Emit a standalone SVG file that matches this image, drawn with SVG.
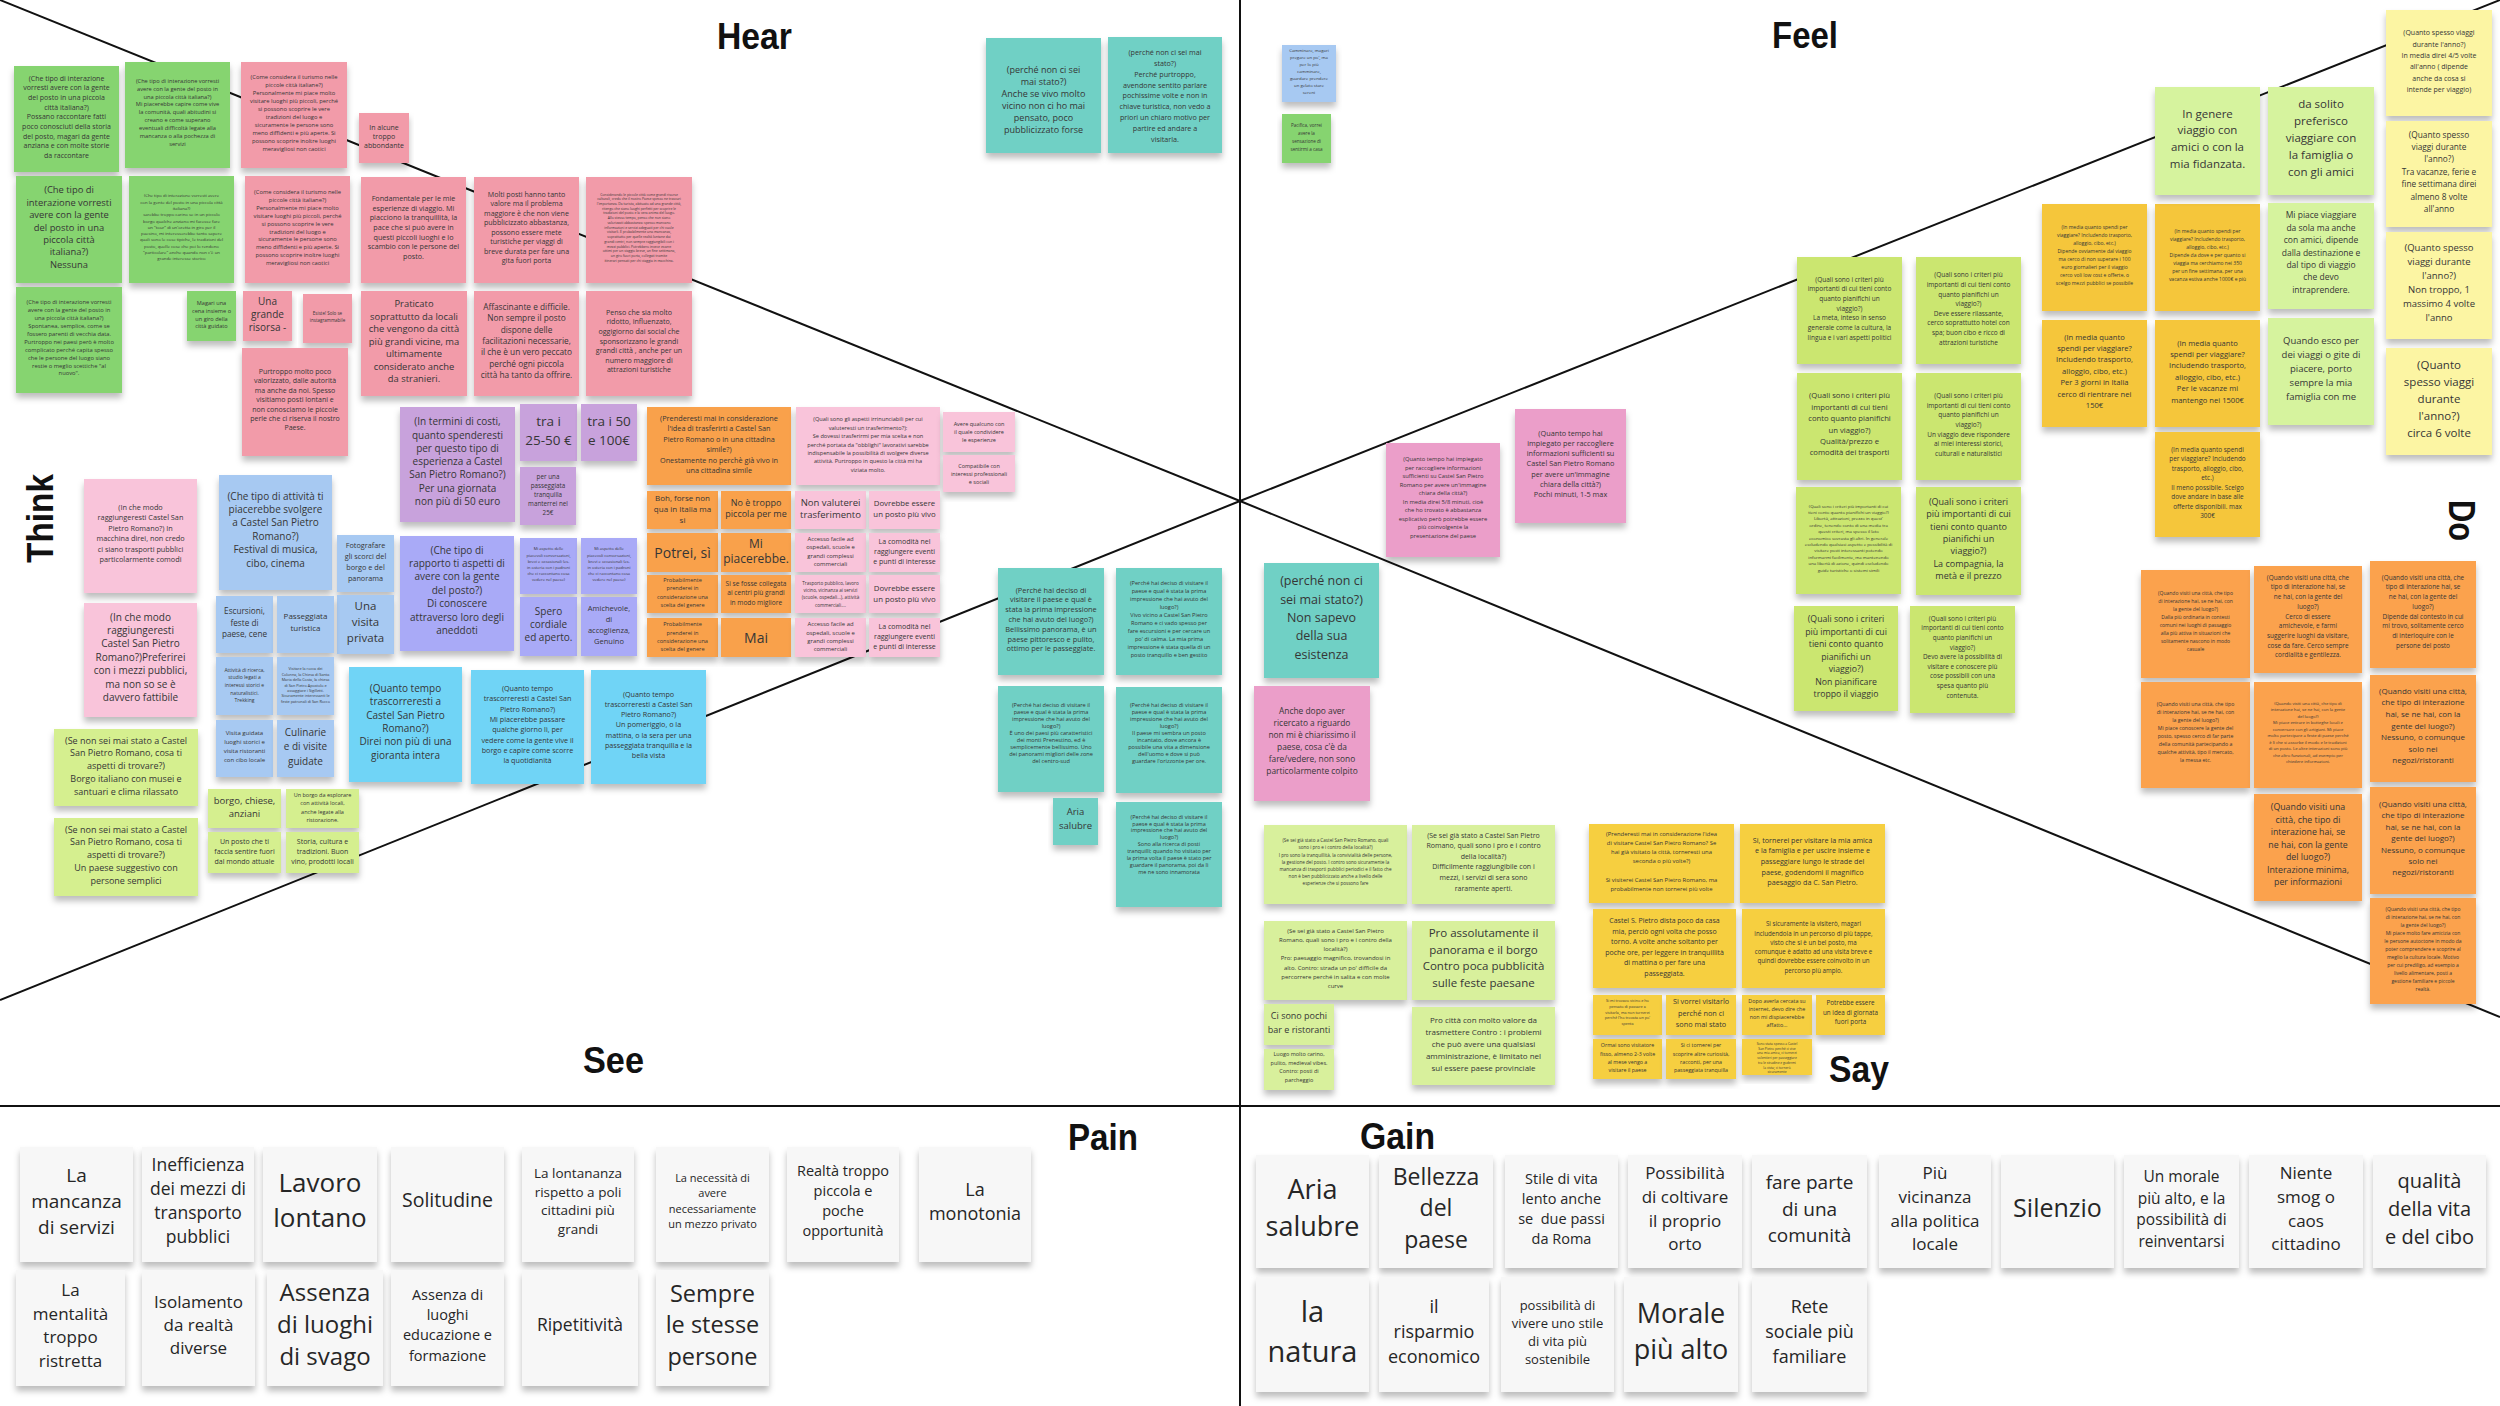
<svg xmlns="http://www.w3.org/2000/svg" width="2500" height="1406" viewBox="0 0 2500 1406">
<defs>
<filter id="sh" x="-10%" y="-10%" width="120%" height="135%"><feDropShadow dx="0" dy="5" stdDeviation="3" flood-color="#000" flood-opacity="0.26"/></filter>
</defs>
<style>
.n{filter:url(#sh)}
text{font-family:"Open Sans","DejaVu Sans",sans-serif;fill:#363636;text-anchor:middle}
.ttl{font-family:"Liberation Sans",Arial,sans-serif;font-weight:700;fill:#111;text-anchor:start;font-size:37px}
.ln{stroke:#111;stroke-width:2;fill:none}
.gr{fill:#86d46f}.pk{fill:#f29ba9}.pu{fill:#c8a2dc}.pw{fill:#a9aaf7}.lb{fill:#a7c9f2}.cy{fill:#6fd4f6}
.lp{fill:#f9c4da}.lm{fill:#d5ef8f}.or{fill:#f9a14b}.te{fill:#70d0c5}.mg{fill:#eb9ec9}.lf{fill:#cbe66f}
.lf2{fill:#d6f39e}.go{fill:#f5c63a}.py{fill:#fcf5a3}.do{fill:#fba24e}.sy{fill:#f6cf3f}.sl{fill:#d8f09c}
.wh{fill:#f7f7f7}.wt{fill:#262626}
</style>
<rect width="2500" height="1406" fill="#fff"/>
<g id="connectors">
<line class="ln" x1="0" y1="0" x2="1240" y2="501"/>
<line class="ln" x1="1240" y1="501" x2="2500" y2="0"/>
<line class="ln" x1="1240" y1="501" x2="0" y2="1000"/>
<line class="ln" x1="1240" y1="501" x2="2500" y2="1017"/>
<line class="ln" x1="1240" y1="0" x2="1240" y2="1406"/>
<line class="ln" x1="0" y1="1106" x2="2500" y2="1106"/>
</g>
<g id="labels">
<text class="ttl" x="717" y="49" textLength="75" lengthAdjust="spacingAndGlyphs">Hear</text>
<text class="ttl" x="1772" y="48" textLength="66" lengthAdjust="spacingAndGlyphs">Feel</text>
<text class="ttl" x="583" y="1073" textLength="61" lengthAdjust="spacingAndGlyphs">See</text>
<text class="ttl" x="1829" y="1082" textLength="60" lengthAdjust="spacingAndGlyphs">Say</text>
<text class="ttl" x="1068" y="1150" textLength="70" lengthAdjust="spacingAndGlyphs">Pain</text>
<text class="ttl" x="1360" y="1149" textLength="75" lengthAdjust="spacingAndGlyphs">Gain</text>
<text class="ttl" transform="translate(53,563) rotate(-90)" x="0" y="0" textLength="89" lengthAdjust="spacingAndGlyphs">Think</text>
<text class="ttl" transform="translate(2449,500) rotate(90)" x="0" y="0" textLength="41" lengthAdjust="spacingAndGlyphs">Do</text>
</g>

<g id="hear">
<g id="hear-1"><rect class="n gr" x="14" y="66" width="105" height="106"/><text font-size="7"><tspan x="66.5" y="80.5">(Che tipo di interazione</tspan><tspan x="66.5" dy="9.7">vorresti avere con la gente</tspan><tspan x="66.5" dy="9.7">del posto in una piccola</tspan><tspan x="66.5" dy="9.7">città italiana?)</tspan><tspan x="66.5" dy="9.7">Possano raccontare fatti</tspan><tspan x="66.5" dy="9.7">poco conosciuti della storia</tspan><tspan x="66.5" dy="9.7">del posto, magari da gente</tspan><tspan x="66.5" dy="9.7">anziana e con molte storie</tspan><tspan x="66.5" dy="9.7">da raccontare</tspan></text></g>
<g id="hear-2"><rect class="n gr" x="125" y="62" width="105" height="106"/><text font-size="5.7"><tspan x="177.5" y="82.7">(Che tipo di interazione vorresti</tspan><tspan x="177.5" dy="7.9">avere con la gente del posto in</tspan><tspan x="177.5" dy="7.9">una piccola città italiana?)</tspan><tspan x="177.5" dy="7.9">Mi piacerebbe capire come vive</tspan><tspan x="177.5" dy="7.9">la comunità, quali abitudini si</tspan><tspan x="177.5" dy="7.9">creano e come superano</tspan><tspan x="177.5" dy="7.9">eventuali difficoltà legate alla</tspan><tspan x="177.5" dy="7.9">mancanza o alla pochezza di</tspan><tspan x="177.5" dy="7.9">servizi</tspan></text></g>
<g id="hear-3"><rect class="n pk" x="241" y="62" width="106" height="106"/><text font-size="5.8"><tspan x="294" y="79.4">(Come considera il turismo nelle</tspan><tspan x="294" dy="7.9">piccole città italiane?)</tspan><tspan x="294" dy="7.9">Personalmente mi piace molto</tspan><tspan x="294" dy="7.9">visitare luoghi più piccoli, perché</tspan><tspan x="294" dy="7.9">si possono scoprire le vere</tspan><tspan x="294" dy="7.9">tradizioni del luogo e</tspan><tspan x="294" dy="7.9">sicuramente le persone sono</tspan><tspan x="294" dy="7.9">meno diffidenti e più aperte. Si</tspan><tspan x="294" dy="7.9">possono scoprire inoltre luoghi</tspan><tspan x="294" dy="7.9">meravigliosi non caotici</tspan></text></g>
<g id="hear-4"><rect class="n pk" x="359" y="113" width="50" height="50"/><text font-size="7"><tspan x="384" y="129.5">In alcune</tspan><tspan x="384" dy="9.3">troppo</tspan><tspan x="384" dy="9.3">abbondante</tspan></text></g>
<g id="hear-5"><rect class="n gr" x="16" y="176" width="106" height="107"/><text font-size="9.4"><tspan x="69" y="193.3">(Che tipo di</tspan><tspan x="69" dy="12.4">interazione vorresti</tspan><tspan x="69" dy="12.4">avere con la gente</tspan><tspan x="69" dy="12.4">del posto in una</tspan><tspan x="69" dy="12.4">piccola città</tspan><tspan x="69" dy="12.4">italiana?)</tspan><tspan x="69" dy="12.4">Nessuna</tspan></text></g>
<g id="hear-6"><rect class="n gr" x="129" y="176" width="105" height="107"/><text font-size="4.3"><tspan x="181.5" y="197.3">(Che tipo di interazione vorresti avere</tspan><tspan x="181.5" dy="6.3">con la gente del posto in una piccola città</tspan><tspan x="181.5" dy="6.3">italiana?)</tspan><tspan x="181.5" dy="6.3">sarebbe troppo carino se in un piccolo</tspan><tspan x="181.5" dy="6.3">borgo qualche anziano mi facesse fare</tspan><tspan x="181.5" dy="6.3">un "tour" di un'oretta in giro per il</tspan><tspan x="181.5" dy="6.3">paesino, mi interesserebbe tanto sapere</tspan><tspan x="181.5" dy="6.3">quali sono le cose tipiche, le tradizioni del</tspan><tspan x="181.5" dy="6.3">posto, quelle cose che poi lo rendono</tspan><tspan x="181.5" dy="6.3">"particolare" anche quando non c'è un</tspan><tspan x="181.5" dy="6.3">grande interesse storico</tspan></text></g>
<g id="hear-7"><rect class="n pk" x="245" y="176" width="105" height="107"/><text font-size="5.8"><tspan x="297.5" y="193.7">(Come considera il turismo nelle</tspan><tspan x="297.5" dy="7.96">piccole città italiane?)</tspan><tspan x="297.5" dy="7.96">Personalmente mi piace molto</tspan><tspan x="297.5" dy="7.96">visitare luoghi più piccoli, perché</tspan><tspan x="297.5" dy="7.96">si possono scoprire le vere</tspan><tspan x="297.5" dy="7.96">tradizioni del luogo e</tspan><tspan x="297.5" dy="7.96">sicuramente le persone sono</tspan><tspan x="297.5" dy="7.96">meno diffidenti e più aperte. Si</tspan><tspan x="297.5" dy="7.96">possono scoprire inoltre luoghi</tspan><tspan x="297.5" dy="7.96">meravigliosi non caotici</tspan></text></g>
<g id="hear-8"><rect class="n pk" x="361" y="177" width="105" height="106"/><text font-size="7.2"><tspan x="413.5" y="200.8">Fondamentale per le mie</tspan><tspan x="413.5" dy="9.7">esperienze di viaggio. Mi</tspan><tspan x="413.5" dy="9.7">piacciono la tranquillità, la</tspan><tspan x="413.5" dy="9.7">pace che si può avere in</tspan><tspan x="413.5" dy="9.7">questi piccoli luoghi e lo</tspan><tspan x="413.5" dy="9.7">scambio con le persone del</tspan><tspan x="413.5" dy="9.7">posto.</tspan></text></g>
<g id="hear-9"><rect class="n pk" x="474" y="177" width="105" height="106"/><text font-size="7.1"><tspan x="526.5" y="196.5">Molti posti hanno tanto</tspan><tspan x="526.5" dy="9.5">valore ma il problema</tspan><tspan x="526.5" dy="9.5">maggiore è che non viene</tspan><tspan x="526.5" dy="9.5">pubblicizzato abbastanza,</tspan><tspan x="526.5" dy="9.5">possono essere mete</tspan><tspan x="526.5" dy="9.5">turistiche per viaggi di</tspan><tspan x="526.5" dy="9.5">breve durata per fare una</tspan><tspan x="526.5" dy="9.5">gita fuori porta</tspan></text></g>
<g id="hear-10"><rect class="n pk" x="586" y="177" width="106" height="106"/><text font-size="3.4"><tspan x="639" y="195.5">Considerando le piccole città come grandi risorse</tspan><tspan x="639" dy="4.74">culturali, credo che il nostro Paese spesso ne trascuri</tspan><tspan x="639" dy="4.74">l'importanza. Da turista, abituato ad una grande città,</tspan><tspan x="639" dy="4.74">ritengo che siano luoghi perfetti per scoprire le</tspan><tspan x="639" dy="4.74">tradizioni del posto e la vera anima del luogo.</tspan><tspan x="639" dy="4.74">Allo stesso tempo, penso che non siano</tspan><tspan x="639" dy="4.74">valorizzati abbastanza: spesso mancano</tspan><tspan x="639" dy="4.74">informazioni e servizi adeguati per chi vuole</tspan><tspan x="639" dy="4.74">visitarli. È probabilmente una mancanza,</tspan><tspan x="639" dy="4.74">soprattutto per quelle realtà lontane dai</tspan><tspan x="639" dy="4.74">grandi centri, non sempre raggiungibili con i</tspan><tspan x="639" dy="4.74">mezzi pubblici. Potrebbero invece essere</tspan><tspan x="639" dy="4.74">ottimi per un viaggio breve, un fine settimana,</tspan><tspan x="639" dy="4.74">un giro fuori porta, collegati tramite</tspan><tspan x="639" dy="4.74">itinerari pensati per chi viaggia in macchina.</tspan></text></g>
<g id="hear-11"><rect class="n gr" x="16" y="287" width="106" height="106"/><text font-size="5.8"><tspan x="69" y="304.3">(Che tipo di interazione vorresti</tspan><tspan x="69" dy="7.9">avere con la gente del posto in</tspan><tspan x="69" dy="7.9">una piccola città italiana?)</tspan><tspan x="69" dy="7.9">Spontanea, semplice, come se</tspan><tspan x="69" dy="7.9">fossero parenti di vecchia data.</tspan><tspan x="69" dy="7.9">Purtroppo nei paesi però è molto</tspan><tspan x="69" dy="7.9">complicato perché capita spesso</tspan><tspan x="69" dy="7.9">che le persone del luogo siano</tspan><tspan x="69" dy="7.9">restie o meglio scettiche "al</tspan><tspan x="69" dy="7.9">nuovo".</tspan></text></g>
<g id="hear-12"><rect class="n gr" x="187" y="291" width="49" height="50"/><text font-size="5.6"><tspan x="211.5" y="305.3">Magari una</tspan><tspan x="211.5" dy="7.6">cena insieme o</tspan><tspan x="211.5" dy="7.6">un giro della</tspan><tspan x="211.5" dy="7.6">città guidato</tspan></text></g>
<g id="hear-13"><rect class="n pk" x="243" y="291" width="49" height="50"/><text font-size="10"><tspan x="267.5" y="304.5">Una</tspan><tspan x="267.5" dy="13.2">grande</tspan><tspan x="267.5" dy="13.2">risorsa -</tspan></text></g>
<g id="hear-14"><rect class="n pk" x="303" y="294" width="49" height="49"/><text font-size="4.5"><tspan x="327.5" y="315">Esiste! Solo se</tspan><tspan x="327.5" dy="6.7">instagrammabile</tspan></text></g>
<g id="hear-15"><rect class="n pk" x="361" y="291" width="106" height="105"/><text font-size="9.4"><tspan x="414" y="307.3">Praticato</tspan><tspan x="414" dy="12.5">soprattutto da locali</tspan><tspan x="414" dy="12.5">che vengono da città</tspan><tspan x="414" dy="12.5">più grandi vicine, ma</tspan><tspan x="414" dy="12.5">ultimamente</tspan><tspan x="414" dy="12.5">considerato anche</tspan><tspan x="414" dy="12.5">da stranieri.</tspan></text></g>
<g id="hear-16"><rect class="n pk" x="474" y="291" width="105" height="105"/><text font-size="8.3"><tspan x="526.5" y="310">Affascinante e difficile.</tspan><tspan x="526.5" dy="11.3">Non sempre il posto</tspan><tspan x="526.5" dy="11.3">dispone delle</tspan><tspan x="526.5" dy="11.3">facilitazioni necessarie,</tspan><tspan x="526.5" dy="11.3">il che è un vero peccato</tspan><tspan x="526.5" dy="11.3">perché ogni piccola</tspan><tspan x="526.5" dy="11.3">città ha tanto da offrire.</tspan></text></g>
<g id="hear-17"><rect class="n pk" x="586" y="291" width="106" height="105"/><text font-size="7.1"><tspan x="639" y="314.8">Penso che sia molto</tspan><tspan x="639" dy="9.6">ridotto, influenzato,</tspan><tspan x="639" dy="9.6">oggigiorno dai social che</tspan><tspan x="639" dy="9.6">sponsorizzano le grandi</tspan><tspan x="639" dy="9.6">grandi città , anche per un</tspan><tspan x="639" dy="9.6">numero maggiore di</tspan><tspan x="639" dy="9.6">attrazioni turistiche</tspan></text></g>
<g id="hear-18"><rect class="n pk" x="242" y="348" width="106" height="108"/><text font-size="7"><tspan x="295" y="374">Purtroppo molto poco</tspan><tspan x="295" dy="9.4">valorizzato, dalle autorità</tspan><tspan x="295" dy="9.4">ma anche da noi. Spesso</tspan><tspan x="295" dy="9.4">visitiamo posti lontani e</tspan><tspan x="295" dy="9.4">non conosciamo le piccole</tspan><tspan x="295" dy="9.4">perle che ci riserva il nostro</tspan><tspan x="295" dy="9.4">Paese.</tspan></text></g>
<g id="hear-19"><rect class="n te" x="986" y="38" width="115" height="115"/><text font-size="9"><tspan x="1043.5" y="73">(perché non ci sei</tspan><tspan x="1043.5" dy="11.9">mai stato?)</tspan><tspan x="1043.5" dy="11.9">Anche se vivo molto</tspan><tspan x="1043.5" dy="11.9">vicino non ci ho mai</tspan><tspan x="1043.5" dy="11.9">pensato, poco</tspan><tspan x="1043.5" dy="11.9">pubblicizzato forse</tspan></text></g>
<g id="hear-20"><rect class="n te" x="1108" y="37" width="114" height="116"/><text font-size="7.2"><tspan x="1165" y="54.8">(perché non ci sei mai</tspan><tspan x="1165" dy="10.9">stato?)</tspan><tspan x="1165" dy="10.9">Perché purtroppo,</tspan><tspan x="1165" dy="10.9">avendone sentito parlare</tspan><tspan x="1165" dy="10.9">pochissime volte e non in</tspan><tspan x="1165" dy="10.9">chiave turistica, non vedo a</tspan><tspan x="1165" dy="10.9">priori un chiaro motivo per</tspan><tspan x="1165" dy="10.9">partire ed andare a</tspan><tspan x="1165" dy="10.9">visitarla.</tspan></text></g>
</g>

<g id="think">
<g id="think-1"><rect class="n pu" x="400" y="407" width="115" height="115"/><text font-size="10"><tspan x="457.5" y="425.2">(In termini di costi,</tspan><tspan x="457.5" dy="13.3">quanto spenderesti</tspan><tspan x="457.5" dy="13.3">per questo tipo di</tspan><tspan x="457.5" dy="13.3">esperienza a Castel</tspan><tspan x="457.5" dy="13.3">San Pietro Romano?)</tspan><tspan x="457.5" dy="13.3">Per una giornata</tspan><tspan x="457.5" dy="13.3">non più di 50 euro</tspan></text></g>
<g id="think-2"><rect class="n pu" x="520" y="404" width="57" height="57"/><text font-size="13.5"><tspan x="548.5" y="426.4">tra i</tspan><tspan x="548.5" dy="18.3">25-50 €</tspan></text></g>
<g id="think-3"><rect class="n pu" x="581" y="404" width="56" height="57"/><text font-size="13.5"><tspan x="609" y="426.4">tra i 50</tspan><tspan x="609" dy="18.3">e 100€</tspan></text></g>
<g id="think-4"><rect class="n pu" x="520" y="467" width="56" height="58"/><text font-size="6.3"><tspan x="548" y="478.9">per una</tspan><tspan x="548" dy="9">passeggiata</tspan><tspan x="548" dy="9">tranquilla</tspan><tspan x="548" dy="9">manterrei nel</tspan><tspan x="548" dy="9">25€</tspan></text></g>
<g id="think-5"><rect class="n or" x="647" y="407" width="144" height="78"/><text font-size="7.3"><tspan x="719" y="420.9">(Prenderesti mai in considerazione</tspan><tspan x="719" dy="10.5">l'idea di trasferirti a Castel San</tspan><tspan x="719" dy="10.5">Pietro Romano o in una cittadina</tspan><tspan x="719" dy="10.5">simile?)</tspan><tspan x="719" dy="10.5">Onestamente no perchè già vivo in</tspan><tspan x="719" dy="10.5">una cittadina simile</tspan></text></g>
<g id="think-6"><rect class="n lp" x="796" y="407" width="144" height="78"/><text font-size="5.6"><tspan x="868" y="421.3">(Quali sono gli aspetti irrinunciabili per cui</tspan><tspan x="868" dy="8.4">valuteresti un trasferimento?):</tspan><tspan x="868" dy="8.4">Se dovessi trasferirmi per mia scelta e non</tspan><tspan x="868" dy="8.4">perché portata da "obblighi" lavorativi sarebbe</tspan><tspan x="868" dy="8.4">indispensabile la possibilità di svolgere diverse</tspan><tspan x="868" dy="8.4">attività. Purtroppo in questo la città mi ha</tspan><tspan x="868" dy="8.4">viziata molto.</tspan></text></g>
<g id="think-7"><rect class="n lp" x="943" y="412" width="72" height="40"/><text font-size="5.5"><tspan x="979" y="426">Avere qualcuno con</tspan><tspan x="979" dy="8">il quale condividere</tspan><tspan x="979" dy="8">le esperienze</tspan></text></g>
<g id="think-8"><rect class="n lp" x="943" y="455" width="72" height="37"/><text font-size="5.5"><tspan x="979" y="467.5">Compatibile con</tspan><tspan x="979" dy="8">interessi professionali</tspan><tspan x="979" dy="8">e sociali</tspan></text></g>
<g id="think-9"><rect class="n or" x="647" y="491" width="71" height="38"/><text font-size="8"><tspan x="682.5" y="500.5">Boh, forse non</tspan><tspan x="682.5" dy="11.2">qua in Italia ma</tspan><tspan x="682.5" dy="11.2">si</tspan></text></g>
<g id="think-10"><rect class="n or" x="721" y="491" width="70" height="38"/><text font-size="9"><tspan x="756" y="505.8">No è troppo</tspan><tspan x="756" dy="11.6">piccola per me</tspan></text></g>
<g id="think-11"><rect class="n or" x="647" y="533" width="71" height="39"/><text font-size="14"><tspan x="682.5" y="557.5">Potrei, sì</tspan></text></g>
<g id="think-12"><rect class="n or" x="721" y="533" width="70" height="39"/><text font-size="12"><tspan x="756" y="547.5">Mi</tspan><tspan x="756" dy="15.7">piacerebbe.</tspan></text></g>
<g id="think-13"><rect class="n or" x="647" y="575" width="71" height="38"/><text font-size="5.6"><tspan x="682.5" y="582">Probabilmente</tspan><tspan x="682.5" dy="8.3">prenderei in</tspan><tspan x="682.5" dy="8.3">considerazione una</tspan><tspan x="682.5" dy="8.3">scelta del genere</tspan></text></g>
<g id="think-14"><rect class="n or" x="721" y="575" width="70" height="38"/><text font-size="6.6"><tspan x="756" y="585.6">Si se fosse collegata</tspan><tspan x="756" dy="9.5">ai centri più grandi</tspan><tspan x="756" dy="9.5">in modo migliore</tspan></text></g>
<g id="think-15"><rect class="n or" x="647" y="618" width="71" height="39"/><text font-size="5.6"><tspan x="682.5" y="626.3">Probabilmente</tspan><tspan x="682.5" dy="8.3">prenderei in</tspan><tspan x="682.5" dy="8.3">considerazione una</tspan><tspan x="682.5" dy="8.3">scelta del genere</tspan></text></g>
<g id="think-16"><rect class="n or" x="721" y="618" width="70" height="39"/><text font-size="14"><tspan x="756" y="642.5">Mai</tspan></text></g>
<g id="think-17"><rect class="n lp" x="795" y="491" width="71" height="38"/><text font-size="9.5"><tspan x="830.5" y="505.6">Non valuterei</tspan><tspan x="830.5" dy="12.7">trasferimento</tspan></text></g>
<g id="think-18"><rect class="n lp" x="869" y="491" width="71" height="38"/><text font-size="7.8"><tspan x="904.5" y="506">Dovrebbe essere</tspan><tspan x="904.5" dy="11">un posto più vivo</tspan></text></g>
<g id="think-19"><rect class="n lp" x="795" y="533" width="71" height="39"/><text font-size="5.9"><tspan x="830.5" y="541">Accesso facile ad</tspan><tspan x="830.5" dy="8.3">ospedali, scuole e</tspan><tspan x="830.5" dy="8.3">grandi complessi</tspan><tspan x="830.5" dy="8.3">commerciali</tspan></text></g>
<g id="think-20"><rect class="n lp" x="869" y="533" width="71" height="39"/><text font-size="7"><tspan x="904.5" y="544.1">La comodità nel</tspan><tspan x="904.5" dy="10">raggiungere eventi</tspan><tspan x="904.5" dy="10">e punti di interesse</tspan></text></g>
<g id="think-21"><rect class="n lp" x="795" y="575" width="71" height="38"/><text font-size="4.6"><tspan x="830.5" y="585">Trasporto pubblico, lavoro</tspan><tspan x="830.5" dy="7.2">vicino, vicinanza ai servizi</tspan><tspan x="830.5" dy="7.2">(scuole, ospedali...), attività</tspan><tspan x="830.5" dy="7.2">commerciali....</tspan></text></g>
<g id="think-22"><rect class="n lp" x="869" y="575" width="71" height="38"/><text font-size="7.8"><tspan x="904.5" y="591">Dovrebbe essere</tspan><tspan x="904.5" dy="11">un posto più vivo</tspan></text></g>
<g id="think-23"><rect class="n lp" x="795" y="618" width="71" height="39"/><text font-size="5.9"><tspan x="830.5" y="626.3">Accesso facile ad</tspan><tspan x="830.5" dy="8.3">ospedali, scuole e</tspan><tspan x="830.5" dy="8.3">grandi complessi</tspan><tspan x="830.5" dy="8.3">commerciali</tspan></text></g>
<g id="think-24"><rect class="n lp" x="869" y="618" width="71" height="39"/><text font-size="7"><tspan x="904.5" y="629.1">La comodità nel</tspan><tspan x="904.5" dy="10">raggiungere eventi</tspan><tspan x="904.5" dy="10">e punti di interesse</tspan></text></g>
<g id="think-25"><rect class="n lp" x="84" y="479" width="113" height="114"/><text font-size="7.3"><tspan x="140.5" y="510">(In che modo</tspan><tspan x="140.5" dy="10.4">raggiungeresti Castel San</tspan><tspan x="140.5" dy="10.4">Pietro Romano?) In</tspan><tspan x="140.5" dy="10.4">macchina direi, non credo</tspan><tspan x="140.5" dy="10.4">ci siano trasporti pubblici</tspan><tspan x="140.5" dy="10.4">particolarmente comodi</tspan></text></g>
<g id="think-26"><rect class="n lp" x="84" y="603" width="113" height="114"/><text font-size="10"><tspan x="140.5" y="620.5">(In che modo</tspan><tspan x="140.5" dy="13.4">raggiungeresti</tspan><tspan x="140.5" dy="13.4">Castel San Pietro</tspan><tspan x="140.5" dy="13.4">Romano?)Preferirei</tspan><tspan x="140.5" dy="13.4">con i mezzi pubblici,</tspan><tspan x="140.5" dy="13.4">ma non so se è</tspan><tspan x="140.5" dy="13.4">davvero fattibile</tspan></text></g>
<g id="think-27"><rect class="n lb" x="219" y="475" width="113" height="115"/><text font-size="10"><tspan x="275.5" y="499.5">(Che tipo di attività ti</tspan><tspan x="275.5" dy="13.4">piacerebbe svolgere</tspan><tspan x="275.5" dy="13.4">a Castel San Pietro</tspan><tspan x="275.5" dy="13.4">Romano?)</tspan><tspan x="275.5" dy="13.4">Festival di musica,</tspan><tspan x="275.5" dy="13.4">cibo, cinema</tspan></text></g>
<g id="think-28"><rect class="n lb" x="337" y="535" width="57" height="57"/><text font-size="7.3"><tspan x="365.5" y="547.6">Fotografare</tspan><tspan x="365.5" dy="11">gli scorci del</tspan><tspan x="365.5" dy="11">borgo e del</tspan><tspan x="365.5" dy="11">panorama</tspan></text></g>
<g id="think-29"><rect class="n lb" x="337" y="595" width="57" height="59"/><text font-size="11.5"><tspan x="365.5" y="610.4">Una</tspan><tspan x="365.5" dy="16">visita</tspan><tspan x="365.5" dy="16">privata</tspan></text></g>
<g id="think-30"><rect class="n lb" x="216" y="596" width="57" height="57"/><text font-size="8.2"><tspan x="244.5" y="613.9">Escursioni,</tspan><tspan x="244.5" dy="11.6">feste di</tspan><tspan x="244.5" dy="11.6">paese, cene</tspan></text></g>
<g id="think-31"><rect class="n lb" x="277" y="596" width="57" height="57"/><text font-size="8"><tspan x="305.5" y="619.2">Passeggiata</tspan><tspan x="305.5" dy="11.8">turistica</tspan></text></g>
<g id="think-32"><rect class="n lb" x="216" y="657" width="57" height="58"/><text font-size="5"><tspan x="244.5" y="671.8">Attività di ricerca,</tspan><tspan x="244.5" dy="7.6">studio legati a</tspan><tspan x="244.5" dy="7.6">interessi storici e</tspan><tspan x="244.5" dy="7.6">naturalistici.</tspan><tspan x="244.5" dy="7.6">Trekking</tspan></text></g>
<g id="think-33"><rect class="n lb" x="277" y="657" width="57" height="58"/><text font-size="3.8"><tspan x="305.5" y="670.3">Visitare la rocca dei</tspan><tspan x="305.5" dy="5.4">Colonna, la Chiesa di Santa</tspan><tspan x="305.5" dy="5.4">Maria della Costa, la chiesa</tspan><tspan x="305.5" dy="5.4">di San Pietro Apostolo e</tspan><tspan x="305.5" dy="5.4">assaggiare i Sigilletti.</tspan><tspan x="305.5" dy="5.4">Sicuramente interessanti le</tspan><tspan x="305.5" dy="5.4">feste patronali di San Rocco</tspan></text></g>
<g id="think-34"><rect class="n lb" x="216" y="720" width="57" height="57"/><text font-size="6"><tspan x="244.5" y="735.3">Visita guidata</tspan><tspan x="244.5" dy="9">luoghi storici e</tspan><tspan x="244.5" dy="9">visita ristoranti</tspan><tspan x="244.5" dy="9">con cibo locale</tspan></text></g>
<g id="think-35"><rect class="n lb" x="277" y="720" width="57" height="57"/><text font-size="10"><tspan x="305.5" y="736">Culinarie</tspan><tspan x="305.5" dy="14.3">e di visite</tspan><tspan x="305.5" dy="14.3">guidate</tspan></text></g>
<g id="think-36"><rect class="n pw" x="400" y="536" width="114" height="115"/><text font-size="10"><tspan x="457" y="553.5">(Che tipo di</tspan><tspan x="457" dy="13.4">rapporto ti aspetti di</tspan><tspan x="457" dy="13.4">avere con la gente</tspan><tspan x="457" dy="13.4">del posto?)</tspan><tspan x="457" dy="13.4">Di conoscere</tspan><tspan x="457" dy="13.4">attraverso loro degli</tspan><tspan x="457" dy="13.4">aneddoti</tspan></text></g>
<g id="think-37"><rect class="n pw" x="520" y="538" width="57" height="56"/><text font-size="4"><tspan x="548.5" y="550.4">Mi aspetto delle</tspan><tspan x="548.5" dy="6.2">piacevoli conversazioni,</tspan><tspan x="548.5" dy="6.2">brevi e occasionali (es.</tspan><tspan x="548.5" dy="6.2">in osteria con i padroni</tspan><tspan x="548.5" dy="6.2">che ci raccontano cosa</tspan><tspan x="548.5" dy="6.2">vedere nel paese)</tspan></text></g>
<g id="think-38"><rect class="n pw" x="581" y="538" width="56" height="56"/><text font-size="4"><tspan x="609" y="550.4">Mi aspetto delle</tspan><tspan x="609" dy="6.2">piacevoli conversazioni,</tspan><tspan x="609" dy="6.2">brevi e occasionali (es.</tspan><tspan x="609" dy="6.2">in osteria con i padroni</tspan><tspan x="609" dy="6.2">che ci raccontano cosa</tspan><tspan x="609" dy="6.2">vedere nel paese)</tspan></text></g>
<g id="think-39"><rect class="n pw" x="520" y="597" width="57" height="59"/><text font-size="10"><tspan x="548.5" y="614.5">Spero</tspan><tspan x="548.5" dy="13.3">cordiale</tspan><tspan x="548.5" dy="13.3">ed aperto.</tspan></text></g>
<g id="think-40"><rect class="n pw" x="581" y="597" width="56" height="59"/><text font-size="7.5"><tspan x="609" y="611">Amichevole,</tspan><tspan x="609" dy="10.9">di</tspan><tspan x="609" dy="10.9">accoglienza,</tspan><tspan x="609" dy="10.9">Genuino</tspan></text></g>
<g id="think-41"><rect class="n cy" x="349" y="667" width="113" height="115"/><text font-size="10"><tspan x="405.5" y="692.1">(Quanto tempo</tspan><tspan x="405.5" dy="13.3">trascorreresti a</tspan><tspan x="405.5" dy="13.3">Castel San Pietro</tspan><tspan x="405.5" dy="13.3">Romano?)</tspan><tspan x="405.5" dy="13.3">Direi non più di una</tspan><tspan x="405.5" dy="13.3">gioranta intera</tspan></text></g>
<g id="think-42"><rect class="n cy" x="471" y="670" width="113" height="114"/><text font-size="7.2"><tspan x="527.5" y="691.1">(Quanto tempo</tspan><tspan x="527.5" dy="10.3">trascorreresti a Castel San</tspan><tspan x="527.5" dy="10.3">Pietro Romano?)</tspan><tspan x="527.5" dy="10.3">Mi piacerebbe passare</tspan><tspan x="527.5" dy="10.3">qualche giorno lì, per</tspan><tspan x="527.5" dy="10.3">vedere come la gente vive il</tspan><tspan x="527.5" dy="10.3">borgo e capire come scorre</tspan><tspan x="527.5" dy="10.3">la quotidianità</tspan></text></g>
<g id="think-43"><rect class="n cy" x="591" y="670" width="115" height="114"/><text font-size="7.2"><tspan x="648.5" y="696.5">(Quanto tempo</tspan><tspan x="648.5" dy="10.3">trascorreresti a Castel San</tspan><tspan x="648.5" dy="10.3">Pietro Romano?)</tspan><tspan x="648.5" dy="10.3">Un pomeriggio, o la</tspan><tspan x="648.5" dy="10.3">mattina, o la sera per una</tspan><tspan x="648.5" dy="10.3">passeggiata tranquilla e la</tspan><tspan x="648.5" dy="10.3">bella vista</tspan></text></g>
</g>

<g id="see">
<g id="see-1"><rect class="n lm" x="54" y="729" width="144" height="77"/><text font-size="9"><tspan x="126" y="743.5">(Se non sei mai stato a Castel</tspan><tspan x="126" dy="12.75">San Pietro Romano, cosa ti</tspan><tspan x="126" dy="12.75">aspetti di trovare?)</tspan><tspan x="126" dy="12.75">Borgo italiano con musei e</tspan><tspan x="126" dy="12.75">santuari e clima rilassato</tspan></text></g>
<g id="see-2"><rect class="n lm" x="54" y="818" width="144" height="78"/><text font-size="9"><tspan x="126" y="832.7">(Se non sei mai stato a Castel</tspan><tspan x="126" dy="12.75">San Pietro Romano, cosa ti</tspan><tspan x="126" dy="12.75">aspetti di trovare?)</tspan><tspan x="126" dy="12.75">Un paese suggestivo con</tspan><tspan x="126" dy="12.75">persone semplici</tspan></text></g>
<g id="see-3"><rect class="n lm" x="208" y="789" width="73" height="39"/><text font-size="9.5"><tspan x="244.5" y="803.7">borgo, chiese,</tspan><tspan x="244.5" dy="13.6">anziani</tspan></text></g>
<g id="see-4"><rect class="n lm" x="286" y="789" width="73" height="39"/><text font-size="5.5"><tspan x="322.5" y="797">Un borgo da esplorare</tspan><tspan x="322.5" dy="8.3">con attività locali,</tspan><tspan x="322.5" dy="8.3">anche legate alla</tspan><tspan x="322.5" dy="8.3">ristorazione.</tspan></text></g>
<g id="see-5"><rect class="n lm" x="208" y="832" width="73" height="41"/><text font-size="7"><tspan x="244.5" y="843.9">Un posto che ti</tspan><tspan x="244.5" dy="10.2">faccia sentire fuori</tspan><tspan x="244.5" dy="10.2">dal mondo attuale</tspan></text></g>
<g id="see-6"><rect class="n lm" x="286" y="832" width="73" height="41"/><text font-size="7"><tspan x="322.5" y="843.9">Storia, cultura e</tspan><tspan x="322.5" dy="10.2">tradizioni. Buon</tspan><tspan x="322.5" dy="10.2">vino, prodotti locali</tspan></text></g>
<g id="see-7"><rect class="n te" x="998" y="568" width="106" height="107"/><text font-size="7.4"><tspan x="1051" y="592.6">(Perché hai deciso di</tspan><tspan x="1051" dy="9.8">visitare il paese e qual è</tspan><tspan x="1051" dy="9.8">stata la prima impressione</tspan><tspan x="1051" dy="9.8">che hai avuto del luogo?)</tspan><tspan x="1051" dy="9.8">Bellissimo panorama, è un</tspan><tspan x="1051" dy="9.8">paese pittoresco e pulito,</tspan><tspan x="1051" dy="9.8">ottimo per le passeggiate.</tspan></text></g>
<g id="see-8"><rect class="n te" x="1116" y="568" width="106" height="107"/><text font-size="5.6"><tspan x="1169" y="585.3">(Perché hai deciso di visitare il</tspan><tspan x="1169" dy="8">paese e qual è stata la prima</tspan><tspan x="1169" dy="8">impressione che hai avuto del</tspan><tspan x="1169" dy="8">luogo?)</tspan><tspan x="1169" dy="8">Vivo vicino a Castel San Pietro</tspan><tspan x="1169" dy="8">Romano e ci vado spesso per</tspan><tspan x="1169" dy="8">fare escursioni e per cercare un</tspan><tspan x="1169" dy="8">po' di calma. La mia prima</tspan><tspan x="1169" dy="8">impressione è stata quella di un</tspan><tspan x="1169" dy="8">posto tranquillo e ben gestito</tspan></text></g>
<g id="see-9"><rect class="n te" x="998" y="686" width="106" height="106"/><text font-size="5.6"><tspan x="1051" y="707">(Perché hai deciso di visitare il</tspan><tspan x="1051" dy="7">paese e qual è stata la prima</tspan><tspan x="1051" dy="7">impressione che hai avuto del</tspan><tspan x="1051" dy="7">luogo?)</tspan><tspan x="1051" dy="7">È uno dei paesi più caratteristici</tspan><tspan x="1051" dy="7">dei monti Prenestino, ed è</tspan><tspan x="1051" dy="7">semplicemente bellissimo. Uno</tspan><tspan x="1051" dy="7">dei panorami migliori delle zone</tspan><tspan x="1051" dy="7">del centro-sud</tspan></text></g>
<g id="see-10"><rect class="n te" x="1116" y="687" width="106" height="106"/><text font-size="5.6"><tspan x="1169" y="707">(Perché hai deciso di visitare il</tspan><tspan x="1169" dy="7">paese e qual è stata la prima</tspan><tspan x="1169" dy="7">impressione che hai avuto del</tspan><tspan x="1169" dy="7">luogo?)</tspan><tspan x="1169" dy="7">Il paese mi sembra un posto</tspan><tspan x="1169" dy="7">incantato, dove ancora è</tspan><tspan x="1169" dy="7">possibile una vita a dimensione</tspan><tspan x="1169" dy="7">dell'uomo e dove si può</tspan><tspan x="1169" dy="7">guardare l'orizzonte per ore.</tspan></text></g>
<g id="see-11"><rect class="n te" x="1053" y="798" width="45" height="47"/><text font-size="9.5"><tspan x="1075.5" y="815">Aria</tspan><tspan x="1075.5" dy="14.3">salubre</tspan></text></g>
<g id="see-12"><rect class="n te" x="1116" y="802" width="106" height="105"/><text font-size="5.5"><tspan x="1169" y="818.6">(Perché hai deciso di visitare il</tspan><tspan x="1169" dy="6.9">paese e qual è stata la prima</tspan><tspan x="1169" dy="6.9">impressione che hai avuto del</tspan><tspan x="1169" dy="6.9">luogo?)</tspan><tspan x="1169" dy="6.9">Sono alla ricerca di posti</tspan><tspan x="1169" dy="6.9">tranquilli; quando ho visitato per</tspan><tspan x="1169" dy="6.9">la prima volta il paese è stato per</tspan><tspan x="1169" dy="6.9">guardare il panorama, poi da lì</tspan><tspan x="1169" dy="6.9">me ne sono innamorata</tspan></text></g>
</g>

<g id="feel">
<g id="feel-1"><rect class="n lb" x="1282" y="45" width="54" height="57"/><text font-size="4.3"><tspan x="1309" y="52.2">Camminare, magari</tspan><tspan x="1309" dy="6.9">pregare un po', ma</tspan><tspan x="1309" dy="6.9">per lo più</tspan><tspan x="1309" dy="6.9">camminare,</tspan><tspan x="1309" dy="6.9">guardare prendere</tspan><tspan x="1309" dy="6.9">un gelato stare</tspan><tspan x="1309" dy="6.9">sereni</tspan></text></g>
<g id="feel-2"><rect class="n gr" x="1282" y="114" width="49" height="49"/><text font-size="4.6"><tspan x="1306.5" y="126.6">Pacifica, vorrei</tspan><tspan x="1306.5" dy="8.1">avere la</tspan><tspan x="1306.5" dy="8.1">sensazione di</tspan><tspan x="1306.5" dy="8.1">sentirmi a casa</tspan></text></g>
<g id="feel-3"><rect class="n mg" x="1386" y="443" width="114" height="114"/><text font-size="5.8"><tspan x="1443" y="461">(Quanto tempo hai impiegato</tspan><tspan x="1443" dy="8.5">per raccogliere informazioni</tspan><tspan x="1443" dy="8.5">sufficienti su Castel San Pietro</tspan><tspan x="1443" dy="8.5">Romano per avere un'immagine</tspan><tspan x="1443" dy="8.5">chiara della città?)</tspan><tspan x="1443" dy="8.5">In media direi 5/8 minuti, cioè</tspan><tspan x="1443" dy="8.5">che ho trovato è abbastanza</tspan><tspan x="1443" dy="8.5">esplicativo però potrebbe essere</tspan><tspan x="1443" dy="8.5">più coinvolgente la</tspan><tspan x="1443" dy="8.5">presentazione del paese</tspan></text></g>
<g id="feel-4"><rect class="n mg" x="1515" y="409" width="111" height="114"/><text font-size="7.3"><tspan x="1570.5" y="435.5">(Quanto tempo hai</tspan><tspan x="1570.5" dy="10.3">impiegato per raccogliere</tspan><tspan x="1570.5" dy="10.3">informazioni sufficienti su</tspan><tspan x="1570.5" dy="10.3">Castel San Pietro Romano</tspan><tspan x="1570.5" dy="10.3">per avere un'immagine</tspan><tspan x="1570.5" dy="10.3">chiara della città?)</tspan><tspan x="1570.5" dy="10.3">Pochi minuti, 1-5 max</tspan></text></g>
<g id="feel-5"><rect class="n lf" x="1797" y="257" width="105" height="107"/><text font-size="6.5"><tspan x="1849.5" y="281.6">(Quali sono i criteri più</tspan><tspan x="1849.5" dy="9.7">importanti di cui tieni conto</tspan><tspan x="1849.5" dy="9.7">quanto pianifichi un</tspan><tspan x="1849.5" dy="9.7">viaggio?)</tspan><tspan x="1849.5" dy="9.7">La meta, inteso in senso</tspan><tspan x="1849.5" dy="9.7">generale come la cultura, la</tspan><tspan x="1849.5" dy="9.7">lingua e i vari aspetti politici</tspan></text></g>
<g id="feel-6"><rect class="n lf" x="1916" y="257" width="105" height="107"/><text font-size="6.5"><tspan x="1968.5" y="277.3">(Quali sono i criteri più</tspan><tspan x="1968.5" dy="9.6">importanti di cui tieni conto</tspan><tspan x="1968.5" dy="9.6">quanto pianifichi un</tspan><tspan x="1968.5" dy="9.6">viaggio?)</tspan><tspan x="1968.5" dy="9.6">Deve essere rilassante,</tspan><tspan x="1968.5" dy="9.6">cerco soprattutto hotel con</tspan><tspan x="1968.5" dy="9.6">spa; buon cibo e ricco di</tspan><tspan x="1968.5" dy="9.6">attrazioni turistiche</tspan></text></g>
<g id="feel-7"><rect class="n lf" x="1797" y="373" width="105" height="107"/><text font-size="7.7"><tspan x="1849.5" y="398.4">(Quali sono i criteri più</tspan><tspan x="1849.5" dy="11.4">importanti di cui tieni</tspan><tspan x="1849.5" dy="11.4">conto quanto pianifichi</tspan><tspan x="1849.5" dy="11.4">un viaggio?)</tspan><tspan x="1849.5" dy="11.4">Qualità/prezzo e</tspan><tspan x="1849.5" dy="11.4">comodità dei trasporti</tspan></text></g>
<g id="feel-8"><rect class="n lf" x="1916" y="373" width="105" height="107"/><text font-size="6.5"><tspan x="1968.5" y="398">(Quali sono i criteri più</tspan><tspan x="1968.5" dy="9.65">importanti di cui tieni conto</tspan><tspan x="1968.5" dy="9.65">quanto pianifichi un</tspan><tspan x="1968.5" dy="9.65">viaggio?)</tspan><tspan x="1968.5" dy="9.65">Un viaggio deve rispondere</tspan><tspan x="1968.5" dy="9.65">ai miei interessi storici,</tspan><tspan x="1968.5" dy="9.65">culturali e naturalistici</tspan></text></g>
<g id="feel-9"><rect class="n lf" x="1796" y="487" width="105" height="107"/><text font-size="4.3"><tspan x="1848.5" y="507.5">(Quali sono i criteri più importanti di cui</tspan><tspan x="1848.5" dy="6.4">tieni conto quanto pianifichi un viaggio?)</tspan><tspan x="1848.5" dy="6.4">Libertà, attrazioni, prezzo in quest'</tspan><tspan x="1848.5" dy="6.4">ordine, tenendo conto di una media tra</tspan><tspan x="1848.5" dy="6.4">questi criteri, ma spesso il lato</tspan><tspan x="1848.5" dy="6.4">economico sovrasta gli altri. In generale</tspan><tspan x="1848.5" dy="6.4">escludendo qualsiasi aspetto e possibilità di</tspan><tspan x="1848.5" dy="6.4">visitare posti interessanti potendo</tspan><tspan x="1848.5" dy="6.4">informarmi facilmente, ma mantenendo</tspan><tspan x="1848.5" dy="6.4">una libertà di azione, quindi escludendo</tspan><tspan x="1848.5" dy="6.4">guide turistiche o sistemi simili</tspan></text></g>
<g id="feel-10"><rect class="n lf" x="1916" y="487" width="105" height="108"/><text font-size="9"><tspan x="1968.5" y="505">(Quali sono i criteri</tspan><tspan x="1968.5" dy="12.3">più importanti di cui</tspan><tspan x="1968.5" dy="12.3">tieni conto quanto</tspan><tspan x="1968.5" dy="12.3">pianifichi un</tspan><tspan x="1968.5" dy="12.3">viaggio?)</tspan><tspan x="1968.5" dy="12.3">La compagnia, la</tspan><tspan x="1968.5" dy="12.3">metà e il prezzo</tspan></text></g>
<g id="feel-11"><rect class="n lf" x="1794" y="606" width="104" height="105"/><text font-size="8.7"><tspan x="1846" y="622.3">(Quali sono i criteri</tspan><tspan x="1846" dy="12.5">più importanti di cui</tspan><tspan x="1846" dy="12.5">tieni conto quanto</tspan><tspan x="1846" dy="12.5">pianifichi un</tspan><tspan x="1846" dy="12.5">viaggio?)</tspan><tspan x="1846" dy="12.5">Non pianificare</tspan><tspan x="1846" dy="12.5">troppo il viaggio</tspan></text></g>
<g id="feel-12"><rect class="n lf" x="1910" y="606" width="105" height="107"/><text font-size="6.4"><tspan x="1962.5" y="620.8">(Quali sono i criteri più</tspan><tspan x="1962.5" dy="9.6">importanti di cui tieni conto</tspan><tspan x="1962.5" dy="9.6">quanto pianifichi un</tspan><tspan x="1962.5" dy="9.6">viaggio?)</tspan><tspan x="1962.5" dy="9.6">Devo avere la possibilità di</tspan><tspan x="1962.5" dy="9.6">visitare e conoscere più</tspan><tspan x="1962.5" dy="9.6">cose possibili con una</tspan><tspan x="1962.5" dy="9.6">spesa quanto più</tspan><tspan x="1962.5" dy="9.6">contenuta.</tspan></text></g>
<g id="feel-13"><rect class="n go" x="2042" y="204" width="105" height="107"/><text font-size="5"><tspan x="2094.5" y="229.2">(In media quanto spendi per</tspan><tspan x="2094.5" dy="8">viaggiare? Includendo trasporto,</tspan><tspan x="2094.5" dy="8">alloggio, cibo, etc.)</tspan><tspan x="2094.5" dy="8">Dipende ovviamente dal viaggio</tspan><tspan x="2094.5" dy="8">ma cerco di non superare i 100</tspan><tspan x="2094.5" dy="8">euro giornalieri per il viaggio</tspan><tspan x="2094.5" dy="8">cerco voli low cost e offerte, o</tspan><tspan x="2094.5" dy="8">scelgo mezzi pubblici se possibile</tspan></text></g>
<g id="feel-14"><rect class="n go" x="2155" y="204" width="105" height="107"/><text font-size="5"><tspan x="2207.5" y="232.7">(In media quanto spendi per</tspan><tspan x="2207.5" dy="8.1">viaggiare? Includendo trasporto,</tspan><tspan x="2207.5" dy="8.1">alloggio, cibo, etc.)</tspan><tspan x="2207.5" dy="8.1">Dipende da dove e per quanto si</tspan><tspan x="2207.5" dy="8.1">viaggia ma cerchiamo nei 350</tspan><tspan x="2207.5" dy="8.1">per un fine settimana, per una</tspan><tspan x="2207.5" dy="8.1">vacanza estiva anche 1000€ e più</tspan></text></g>
<g id="feel-15"><rect class="n go" x="2042" y="320" width="105" height="107"/><text font-size="7.6"><tspan x="2094.5" y="339.5">(In media quanto</tspan><tspan x="2094.5" dy="11.4">spendi per viaggiare?</tspan><tspan x="2094.5" dy="11.4">Includendo trasporto,</tspan><tspan x="2094.5" dy="11.4">alloggio, cibo, etc.)</tspan><tspan x="2094.5" dy="11.4">Per 3 giorni in Italia</tspan><tspan x="2094.5" dy="11.4">cerco di rientrare nei</tspan><tspan x="2094.5" dy="11.4">150€</tspan></text></g>
<g id="feel-16"><rect class="n go" x="2155" y="320" width="105" height="107"/><text font-size="7.6"><tspan x="2207.5" y="345.6">(In media quanto</tspan><tspan x="2207.5" dy="11.4">spendi per viaggiare?</tspan><tspan x="2207.5" dy="11.4">Includendo trasporto,</tspan><tspan x="2207.5" dy="11.4">alloggio, cibo, etc.)</tspan><tspan x="2207.5" dy="11.4">Per le vacanze mi</tspan><tspan x="2207.5" dy="11.4">mantengo nei 1500€</tspan></text></g>
<g id="feel-17"><rect class="n go" x="2155" y="432" width="105" height="105"/><text font-size="6.4"><tspan x="2207.5" y="451.5">(In media quanto spendi</tspan><tspan x="2207.5" dy="9.5">per viaggiare? Includendo</tspan><tspan x="2207.5" dy="9.5">trasporto, alloggio, cibo,</tspan><tspan x="2207.5" dy="9.5">etc.)</tspan><tspan x="2207.5" dy="9.5">Il meno possibile. Scelgo</tspan><tspan x="2207.5" dy="9.5">dove andare in base alle</tspan><tspan x="2207.5" dy="9.5">offerte disponibili. max</tspan><tspan x="2207.5" dy="9.5">300€</tspan></text></g>
<g id="feel-18"><rect class="n lf2" x="2155" y="87" width="105" height="108"/><text font-size="11.5"><tspan x="2207.5" y="117.6">In genere</tspan><tspan x="2207.5" dy="16.7">viaggio con</tspan><tspan x="2207.5" dy="16.7">amici  o con la</tspan><tspan x="2207.5" dy="16.7">mia fidanzata.</tspan></text></g>
<g id="feel-19"><rect class="n lf2" x="2268" y="87" width="106" height="108"/><text font-size="11.5"><tspan x="2321" y="108.3">da solito</tspan><tspan x="2321" dy="16.9">preferisco</tspan><tspan x="2321" dy="16.9">viaggiare con</tspan><tspan x="2321" dy="16.9">la famiglia o</tspan><tspan x="2321" dy="16.9">con gli amici</tspan></text></g>
<g id="feel-20"><rect class="n lf2" x="2268" y="203" width="106" height="106"/><text font-size="8.5"><tspan x="2321" y="218.4">Mi piace viaggiare</tspan><tspan x="2321" dy="12.4">da sola ma anche</tspan><tspan x="2321" dy="12.4">con amici, dipende</tspan><tspan x="2321" dy="12.4">dalla destinazione e</tspan><tspan x="2321" dy="12.4">dal tipo di viaggio</tspan><tspan x="2321" dy="12.4">che devo</tspan><tspan x="2321" dy="12.4">intraprendere.</tspan></text></g>
<g id="feel-21"><rect class="n lf2" x="2268" y="318" width="106" height="107"/><text font-size="9.5"><tspan x="2321" y="344.3">Quando esco per</tspan><tspan x="2321" dy="13.9">dei viaggi o gite di</tspan><tspan x="2321" dy="13.9">piacere, porto</tspan><tspan x="2321" dy="13.9">sempre la mia</tspan><tspan x="2321" dy="13.9">famiglia con me</tspan></text></g>
<g id="feel-22"><rect class="n py" x="2386" y="10" width="106" height="106"/><text font-size="7"><tspan x="2439" y="35.3">(Quanto spesso viaggi</tspan><tspan x="2439" dy="11.3">durante l'anno?)</tspan><tspan x="2439" dy="11.3">In media direi 4/5 volte</tspan><tspan x="2439" dy="11.3">all'anno ( dipende</tspan><tspan x="2439" dy="11.3">anche da cosa si</tspan><tspan x="2439" dy="11.3">intende per viaggio)</tspan></text></g>
<g id="feel-23"><rect class="n py" x="2386" y="121" width="106" height="106"/><text font-size="8.3"><tspan x="2439" y="137.5">(Quanto spesso</tspan><tspan x="2439" dy="12.4">viaggi durante</tspan><tspan x="2439" dy="12.4">l'anno?)</tspan><tspan x="2439" dy="12.4">Tra vacanze, ferie e</tspan><tspan x="2439" dy="12.4">fine settimana direi</tspan><tspan x="2439" dy="12.4">almeno 8 volte</tspan><tspan x="2439" dy="12.4">all'anno</tspan></text></g>
<g id="feel-24"><rect class="n py" x="2386" y="232" width="106" height="107"/><text font-size="9.5"><tspan x="2439" y="250.8">(Quanto spesso</tspan><tspan x="2439" dy="14.1">viaggi durante</tspan><tspan x="2439" dy="14.1">l'anno?)</tspan><tspan x="2439" dy="14.1">Non troppo, 1</tspan><tspan x="2439" dy="14.1">massimo 4 volte</tspan><tspan x="2439" dy="14.1">l'anno</tspan></text></g>
<g id="feel-25"><rect class="n py" x="2386" y="348" width="106" height="107"/><text font-size="11.5"><tspan x="2439" y="369">(Quanto</tspan><tspan x="2439" dy="17">spesso viaggi</tspan><tspan x="2439" dy="17">durante</tspan><tspan x="2439" dy="17">l'anno?)</tspan><tspan x="2439" dy="17">circa 6 volte</tspan></text></g>
</g>

<g id="do">
<g id="do-1"><rect class="n do" x="2141" y="570" width="109" height="108"/><text font-size="5"><tspan x="2195.5" y="595.3">(Quando visiti una città, che tipo</tspan><tspan x="2195.5" dy="7.9">di interazione hai, se ne hai, con</tspan><tspan x="2195.5" dy="7.9">la gente del luogo?)</tspan><tspan x="2195.5" dy="7.9">Dalla più ordinaria in contesti</tspan><tspan x="2195.5" dy="7.9">comuni nei luoghi di passaggio</tspan><tspan x="2195.5" dy="7.9">alla più attiva in situazioni che</tspan><tspan x="2195.5" dy="7.9">solitamente nascono in modo</tspan><tspan x="2195.5" dy="7.9">casuale</tspan></text></g>
<g id="do-2"><rect class="n do" x="2254" y="566" width="108" height="107"/><text font-size="6.4"><tspan x="2308" y="579.7">(Quando visiti una città, che</tspan><tspan x="2308" dy="9.7">tipo di interazione hai, se</tspan><tspan x="2308" dy="9.7">ne hai, con la gente del</tspan><tspan x="2308" dy="9.7">luogo?)</tspan><tspan x="2308" dy="9.7">Cerco di essere</tspan><tspan x="2308" dy="9.7">amichevole, e farmi</tspan><tspan x="2308" dy="9.7">suggerire luoghi da visitare,</tspan><tspan x="2308" dy="9.7">cose da fare. Cerco sempre</tspan><tspan x="2308" dy="9.7">cordialità e gentilezza.</tspan></text></g>
<g id="do-3"><rect class="n do" x="2370" y="561" width="106" height="107"/><text font-size="6.4"><tspan x="2423" y="579.7">(Quando visiti una città, che</tspan><tspan x="2423" dy="9.7">tipo di interazione hai, se</tspan><tspan x="2423" dy="9.7">ne hai, con la gente del</tspan><tspan x="2423" dy="9.7">luogo?)</tspan><tspan x="2423" dy="9.7">Dipende dal contesto in cui</tspan><tspan x="2423" dy="9.7">mi trovo, solitamente cerco</tspan><tspan x="2423" dy="9.7">di interloquire con le</tspan><tspan x="2423" dy="9.7">persone del posto</tspan></text></g>
<g id="do-4"><rect class="n do" x="2141" y="682" width="109" height="106"/><text font-size="5.2"><tspan x="2195.5" y="706.1">(Quando visiti una città, che tipo</tspan><tspan x="2195.5" dy="8">di interazione hai, se ne hai, con</tspan><tspan x="2195.5" dy="8">la gente del luogo?)</tspan><tspan x="2195.5" dy="8">Mi piace conoscere la gente del</tspan><tspan x="2195.5" dy="8">posto, spesso cerco di far parte</tspan><tspan x="2195.5" dy="8">della comunità partecipando a</tspan><tspan x="2195.5" dy="8">qualche attività, tipo il mercato,</tspan><tspan x="2195.5" dy="8">la messa etc.</tspan></text></g>
<g id="do-5"><rect class="n do" x="2254" y="682" width="108" height="106"/><text font-size="4.2"><tspan x="2308" y="704.7">(Quando visiti una città, che tipo di</tspan><tspan x="2308" dy="6.5">interazione hai, se ne hai, con la gente</tspan><tspan x="2308" dy="6.5">del luogo?)</tspan><tspan x="2308" dy="6.5">Mi piace entrare in botteghe locali e</tspan><tspan x="2308" dy="6.5">conversare con gli artigiani. Mi piace</tspan><tspan x="2308" dy="6.5">molto partecipare a feste di paese perché</tspan><tspan x="2308" dy="6.5">è lì che si assorbe il modo e le tradizioni</tspan><tspan x="2308" dy="6.5">di un posto. Le altre interazioni sono più</tspan><tspan x="2308" dy="6.5">che altro funzionali, ad esempio per</tspan><tspan x="2308" dy="6.5">chiedere informazioni.</tspan></text></g>
<g id="do-6"><rect class="n do" x="2370" y="675" width="106" height="107"/><text font-size="8"><tspan x="2423" y="693.8">(Quando visiti una città,</tspan><tspan x="2423" dy="11.6">che tipo di interazione</tspan><tspan x="2423" dy="11.6">hai, se ne hai, con la</tspan><tspan x="2423" dy="11.6">gente del luogo?)</tspan><tspan x="2423" dy="11.6">Nessuno, o comunque</tspan><tspan x="2423" dy="11.6">solo nei</tspan><tspan x="2423" dy="11.6">negozi/ristoranti</tspan></text></g>
<g id="do-7"><rect class="n do" x="2254" y="794" width="108" height="107"/><text font-size="8.8"><tspan x="2308" y="810">(Quando visiti una</tspan><tspan x="2308" dy="12.5">città, che tipo di</tspan><tspan x="2308" dy="12.5">interazione hai, se</tspan><tspan x="2308" dy="12.5">ne hai, con la gente</tspan><tspan x="2308" dy="12.5">del luogo?)</tspan><tspan x="2308" dy="12.5">Interazione minima,</tspan><tspan x="2308" dy="12.5">per informazioni</tspan></text></g>
<g id="do-8"><rect class="n do" x="2370" y="787" width="106" height="107"/><text font-size="8"><tspan x="2423" y="807">(Quando visiti una città,</tspan><tspan x="2423" dy="11.4">che tipo di interazione</tspan><tspan x="2423" dy="11.4">hai, se ne hai, con la</tspan><tspan x="2423" dy="11.4">gente del luogo?)</tspan><tspan x="2423" dy="11.4">Nessuno, o comunque</tspan><tspan x="2423" dy="11.4">solo nei</tspan><tspan x="2423" dy="11.4">negozi/ristoranti</tspan></text></g>
<g id="do-9"><rect class="n do" x="2370" y="898" width="106" height="106"/><text font-size="5"><tspan x="2423" y="911.4">(Quando visiti una città, che tipo</tspan><tspan x="2423" dy="8">di interazione hai, se ne hai, con</tspan><tspan x="2423" dy="8">la gente del luogo?)</tspan><tspan x="2423" dy="8">Mi piace molto fare amicizia con</tspan><tspan x="2423" dy="8">le persone autoctone in modo da</tspan><tspan x="2423" dy="8">poter comprendere e scoprire al</tspan><tspan x="2423" dy="8">meglio la cultura locale. Motivo</tspan><tspan x="2423" dy="8">per cui prediligo, ad esempio a</tspan><tspan x="2423" dy="8">livello alimentare, posti a</tspan><tspan x="2423" dy="8">gestione familiare e piccole</tspan><tspan x="2423" dy="8">realtà.</tspan></text></g>
</g>

<g id="say">
<g id="say-1"><rect class="n te" x="1264" y="563" width="115" height="115"/><text font-size="12.5"><tspan x="1321.5" y="585.4">(perché non ci</tspan><tspan x="1321.5" dy="18.3">sei mai stato?)</tspan><tspan x="1321.5" dy="18.3">Non sapevo</tspan><tspan x="1321.5" dy="18.3">della sua</tspan><tspan x="1321.5" dy="18.3">esistenza</tspan></text></g>
<g id="say-2"><rect class="n mg" x="1254" y="686" width="116" height="115"/><text font-size="8.4"><tspan x="1312" y="713.6">Anche dopo aver</tspan><tspan x="1312" dy="12.1">ricercato a riguardo</tspan><tspan x="1312" dy="12.1">non mi è chiarissimo il</tspan><tspan x="1312" dy="12.1">paese, cosa c'è da</tspan><tspan x="1312" dy="12.1">fare/vedere, non sono</tspan><tspan x="1312" dy="12.1">particolarmente colpito</tspan></text></g>
<g id="say-3"><rect class="n sl" x="1264" y="825" width="143" height="79"/><text font-size="4.6"><tspan x="1335.5" y="842.3">(Se sei già stato a Castel San Pietro Romano, quali</tspan><tspan x="1335.5" dy="7.15">sono i pro e i contro della località?)</tspan><tspan x="1335.5" dy="7.15">I pro sono la tranquillità, la convivialità delle persone,</tspan><tspan x="1335.5" dy="7.15">la gestione del posto. I contro sono sicuramente la</tspan><tspan x="1335.5" dy="7.15">mancanza di trasporti pubblici periodici e il fatto che</tspan><tspan x="1335.5" dy="7.15">non è ben pubblicizzato anche a livello delle</tspan><tspan x="1335.5" dy="7.15">esperienze che si possono fare</tspan></text></g>
<g id="say-4"><rect class="n sl" x="1412" y="825" width="143" height="79"/><text font-size="7"><tspan x="1483.5" y="837.5">(Se sei già stato a Castel San Pietro</tspan><tspan x="1483.5" dy="10.6">Romano, quali sono i pro e i contro</tspan><tspan x="1483.5" dy="10.6">della località?)</tspan><tspan x="1483.5" dy="10.6">Difficilmente raggiungibile con i</tspan><tspan x="1483.5" dy="10.6">mezzi, i servizi di sera sono</tspan><tspan x="1483.5" dy="10.6">raramente aperti.</tspan></text></g>
<g id="say-5"><rect class="n sl" x="1264" y="921" width="143" height="79"/><text font-size="6"><tspan x="1335.5" y="932.5">(Se sei già stato a Castel San Pietro</tspan><tspan x="1335.5" dy="9.3">Romano, quali sono i pro e i contro della</tspan><tspan x="1335.5" dy="9.3">località?)</tspan><tspan x="1335.5" dy="9.3">Pro: paesaggio magnifico, trovandosi in</tspan><tspan x="1335.5" dy="9.3">alto. Contro: strada un po' difficile da</tspan><tspan x="1335.5" dy="9.3">percorrere perché in salita e con molte</tspan><tspan x="1335.5" dy="9.3">curve</tspan></text></g>
<g id="say-6"><rect class="n sl" x="1412" y="921" width="143" height="79"/><text font-size="11.5"><tspan x="1483.5" y="937">Pro assolutamente il</tspan><tspan x="1483.5" dy="16.7">panorama e il borgo</tspan><tspan x="1483.5" dy="16.7">Contro poca pubblicità</tspan><tspan x="1483.5" dy="16.7">sulle feste paesane</tspan></text></g>
<g id="say-7"><rect class="n sl" x="1264" y="1004" width="70" height="41"/><text font-size="9"><tspan x="1299" y="1019.2">Ci sono pochi</tspan><tspan x="1299" dy="13.3">bar e ristoranti</tspan></text></g>
<g id="say-8"><rect class="n sl" x="1264" y="1049" width="70" height="41"/><text font-size="5.5"><tspan x="1299" y="1056.2">Luogo molto carino,</tspan><tspan x="1299" dy="8.6">pulito, medieval vibes.</tspan><tspan x="1299" dy="8.6">Contro: posti di</tspan><tspan x="1299" dy="8.6">parcheggio</tspan></text></g>
<g id="say-9"><rect class="n sl" x="1412" y="1007" width="143" height="78"/><text font-size="8"><tspan x="1483.5" y="1023.2">Pro città con molto valore da</tspan><tspan x="1483.5" dy="11.9">trasmettere Contro : i problemi</tspan><tspan x="1483.5" dy="11.9">che può avere una qualsiasi</tspan><tspan x="1483.5" dy="11.9">amministrazione, è limitato nel</tspan><tspan x="1483.5" dy="11.9">sul essere paese provinciale</tspan></text></g>
<g id="say-10"><rect class="n sy" x="1589" y="824" width="145" height="79"/><text font-size="5.9"><tspan x="1661.5" y="835.6">(Prenderesti mai in considerazione l'idea</tspan><tspan x="1661.5" dy="9.1">di visitare Castel San Pietro Romano? Se</tspan><tspan x="1661.5" dy="9.1">hai già visitato la città, torneresti una</tspan><tspan x="1661.5" dy="9.1">seconda o più volte?)</tspan><tspan x="1661.5" dy="18.6">Si visiterei Castel San Pietro Romano, ma</tspan><tspan x="1661.5" dy="9.5">probabilmente non tornerei più volte</tspan></text></g>
<g id="say-11"><rect class="n sy" x="1740" y="824" width="145" height="79"/><text font-size="7.2"><tspan x="1812.5" y="842.5">Si, tornerei per visitare la mia amica</tspan><tspan x="1812.5" dy="10.7">e la famiglia e per uscire insieme e</tspan><tspan x="1812.5" dy="10.7">passeggiare lungo le strade del</tspan><tspan x="1812.5" dy="10.7">paese, godendomi il magnifico</tspan><tspan x="1812.5" dy="10.7">paesaggio da C. San Pietro.</tspan></text></g>
<g id="say-12"><rect class="n sy" x="1593" y="909" width="143" height="79"/><text font-size="7"><tspan x="1664.5" y="922.9">Castel S. Pietro dista poco da casa</tspan><tspan x="1664.5" dy="10.6">mia, perciò ogni volta che posso</tspan><tspan x="1664.5" dy="10.6">torno. A volte anche soltanto per</tspan><tspan x="1664.5" dy="10.6">poche ore, per leggere in tranquillità</tspan><tspan x="1664.5" dy="10.6">di mattina o per fare una</tspan><tspan x="1664.5" dy="10.6">passeggiata.</tspan></text></g>
<g id="say-13"><rect class="n sy" x="1742" y="909" width="143" height="79"/><text font-size="6.2"><tspan x="1813.5" y="926.2">Si sicuramente la visiterò, magari</tspan><tspan x="1813.5" dy="9.3">includendola in un percorso di più tappe,</tspan><tspan x="1813.5" dy="9.3">visto che si è un bel posto, ma</tspan><tspan x="1813.5" dy="9.3">comunque è adatto ad una visita breve e</tspan><tspan x="1813.5" dy="9.3">quindi dovrebbe essere coinvolto in un</tspan><tspan x="1813.5" dy="9.3">percorso più ampio.</tspan></text></g>
<g id="say-14"><rect class="n sy" x="1593" y="995" width="69" height="40"/><text font-size="3.8"><tspan x="1627.5" y="1002">Si mi trovavo vicino e ho</tspan><tspan x="1627.5" dy="5.8">pensato di passare a</tspan><tspan x="1627.5" dy="5.8">visitarla, ma non tornerei</tspan><tspan x="1627.5" dy="5.8">perché l'ho trovata un po'</tspan><tspan x="1627.5" dy="5.8">spenta</tspan></text></g>
<g id="say-15"><rect class="n sy" x="1666" y="995" width="70" height="40"/><text font-size="7.3"><tspan x="1701" y="1004.4">Si vorrei visitarlo</tspan><tspan x="1701" dy="11.1">perché non ci</tspan><tspan x="1701" dy="11.1">sono mai stato</tspan></text></g>
<g id="say-16"><rect class="n sy" x="1742" y="995" width="70" height="40"/><text font-size="5.4"><tspan x="1777" y="1002.6">Dopo averla cercata su</tspan><tspan x="1777" dy="8.1">internet, devo dire che</tspan><tspan x="1777" dy="8.1">non mi dispiacerebbe</tspan><tspan x="1777" dy="8.1">affatto...</tspan></text></g>
<g id="say-17"><rect class="n sy" x="1816" y="995" width="69" height="40"/><text font-size="6.3"><tspan x="1850.5" y="1005.4">Potrebbe essere</tspan><tspan x="1850.5" dy="9.5">un idea di giornata</tspan><tspan x="1850.5" dy="9.5">fuori porta</tspan></text></g>
<g id="say-18"><rect class="n sy" x="1593" y="1039" width="69" height="40"/><text font-size="5.3"><tspan x="1627.5" y="1047.3">Ormai sono visitatore</tspan><tspan x="1627.5" dy="8.3">fisso, almeno 2-3 volte</tspan><tspan x="1627.5" dy="8.3">al mese vengo a</tspan><tspan x="1627.5" dy="8.3">visitare il paese</tspan></text></g>
<g id="say-19"><rect class="n sy" x="1666" y="1039" width="70" height="40"/><text font-size="5.3"><tspan x="1701" y="1047.3">Si ci tornerei per</tspan><tspan x="1701" dy="8.3">scoprire altre curiosità,</tspan><tspan x="1701" dy="8.3">racconti, per una</tspan><tspan x="1701" dy="8.3">passeggiata tranquilla</tspan></text></g>
<g id="say-20"><rect class="n sy" x="1742" y="1039" width="70" height="36"/><text font-size="3.3"><tspan x="1777" y="1044.8">Sono stata spesso a Castel</tspan><tspan x="1777" dy="4.75">San Pietro perché ci vive</tspan><tspan x="1777" dy="4.75">una mia amica, ci tornerei</tspan><tspan x="1777" dy="4.75">volentieri per passeggiare</tspan><tspan x="1777" dy="4.75">tra le stradine e godermi</tspan><tspan x="1777" dy="4.75">la vista; ci tornerò</tspan><tspan x="1777" dy="4.75">sicuramente</tspan></text></g>
</g>

<g id="pain">
<g id="pain-1"><rect class="n wh" x="20" y="1147" width="113" height="115"/><text class="wt" font-size="19"><tspan x="76.5" y="1181.5">La</tspan><tspan x="76.5" dy="26.3">mancanza</tspan><tspan x="76.5" dy="26.3">di servizi</tspan></text></g>
<g id="pain-2"><rect class="n wh" x="142" y="1147" width="112" height="115"/><text class="wt" font-size="17.5"><tspan x="198" y="1171">Inefficienza</tspan><tspan x="198" dy="23.9">dei mezzi di</tspan><tspan x="198" dy="23.9">transporto</tspan><tspan x="198" dy="23.9">pubblici</tspan></text></g>
<g id="pain-3"><rect class="n wh" x="263" y="1147" width="114" height="115"/><text class="wt" font-size="26"><tspan x="320" y="1192">Lavoro</tspan><tspan x="320" dy="35">lontano</tspan></text></g>
<g id="pain-4"><rect class="n wh" x="391" y="1147" width="113" height="115"/><text class="wt" font-size="19.5"><tspan x="447.5" y="1207">Solitudine</tspan></text></g>
<g id="pain-5"><rect class="n wh" x="522" y="1147" width="112" height="115"/><text class="wt" font-size="13.5"><tspan x="578" y="1178">La lontananza</tspan><tspan x="578" dy="18.7">rispetto a poli</tspan><tspan x="578" dy="18.7">cittadini più</tspan><tspan x="578" dy="18.7">grandi</tspan></text></g>
<g id="pain-6"><rect class="n wh" x="656" y="1147" width="113" height="115"/><text class="wt" font-size="11"><tspan x="712.5" y="1182">La necessità di</tspan><tspan x="712.5" dy="15.3">avere</tspan><tspan x="712.5" dy="15.3">necessariamente</tspan><tspan x="712.5" dy="15.3">un mezzo privato</tspan></text></g>
<g id="pain-7"><rect class="n wh" x="787" y="1147" width="112" height="115"/><text class="wt" font-size="14.5"><tspan x="843" y="1175.7">Realtà troppo</tspan><tspan x="843" dy="20.1">piccola e</tspan><tspan x="843" dy="20.1">poche</tspan><tspan x="843" dy="20.1">opportunità</tspan></text></g>
<g id="pain-8"><rect class="n wh" x="919" y="1147" width="112" height="115"/><text class="wt" font-size="18"><tspan x="975" y="1195.6">La</tspan><tspan x="975" dy="24">monotonia</tspan></text></g>
<g id="pain-9"><rect class="n wh" x="16" y="1270" width="109" height="116"/><text class="wt" font-size="17"><tspan x="70.5" y="1296">La</tspan><tspan x="70.5" dy="23.7">mentalità</tspan><tspan x="70.5" dy="23.7">troppo</tspan><tspan x="70.5" dy="23.7">ristretta</tspan></text></g>
<g id="pain-10"><rect class="n wh" x="142" y="1270" width="113" height="116"/><text class="wt" font-size="17"><tspan x="198.5" y="1307.7">Isolamento</tspan><tspan x="198.5" dy="23.3">da realtà</tspan><tspan x="198.5" dy="23.3">diverse</tspan></text></g>
<g id="pain-11"><rect class="n wh" x="267" y="1270" width="116" height="116"/><text class="wt" font-size="24"><tspan x="325" y="1301">Assenza</tspan><tspan x="325" dy="32">di luoghi</tspan><tspan x="325" dy="32">di svago</tspan></text></g>
<g id="pain-12"><rect class="n wh" x="391" y="1270" width="113" height="116"/><text class="wt" font-size="14.5"><tspan x="447.5" y="1300">Assenza di</tspan><tspan x="447.5" dy="20.2">luoghi</tspan><tspan x="447.5" dy="20.2">educazione e</tspan><tspan x="447.5" dy="20.2">formazione</tspan></text></g>
<g id="pain-13"><rect class="n wh" x="522" y="1270" width="116" height="116"/><text class="wt" font-size="17.5"><tspan x="580" y="1331">Ripetitività</tspan></text></g>
<g id="pain-14"><rect class="n wh" x="656" y="1270" width="113" height="116"/><text class="wt" font-size="23.5"><tspan x="712.5" y="1301.5">Sempre</tspan><tspan x="712.5" dy="31.7">le stesse</tspan><tspan x="712.5" dy="31.7">persone</tspan></text></g>
</g>

<g id="gain">
<g id="gain-1"><rect class="n wh" x="1256" y="1155" width="113" height="113"/><text class="wt" font-size="27"><tspan x="1312.5" y="1199">Aria</tspan><tspan x="1312.5" dy="36.7">salubre</tspan></text></g>
<g id="gain-2"><rect class="n wh" x="1379" y="1155" width="114" height="113"/><text class="wt" font-size="23"><tspan x="1436" y="1184.7">Bellezza</tspan><tspan x="1436" dy="31.7">del</tspan><tspan x="1436" dy="31.7">paese</tspan></text></g>
<g id="gain-3"><rect class="n wh" x="1505" y="1155" width="113" height="113"/><text class="wt" font-size="14.5"><tspan x="1561.5" y="1184">Stile di vita</tspan><tspan x="1561.5" dy="20.1">lento anche</tspan><tspan x="1561.5" dy="20.1" xml:space="preserve">se  due passi</tspan><tspan x="1561.5" dy="20.1">da Roma</tspan></text></g>
<g id="gain-4"><rect class="n wh" x="1628" y="1155" width="114" height="113"/><text class="wt" font-size="17"><tspan x="1685" y="1178.7">Possibilità</tspan><tspan x="1685" dy="23.9">di coltivare</tspan><tspan x="1685" dy="23.9">il proprio</tspan><tspan x="1685" dy="23.9">orto</tspan></text></g>
<g id="gain-5"><rect class="n wh" x="1752" y="1155" width="115" height="113"/><text class="wt" font-size="19"><tspan x="1809.5" y="1189.3">fare parte</tspan><tspan x="1809.5" dy="26.5">di una</tspan><tspan x="1809.5" dy="26.5">comunità</tspan></text></g>
<g id="gain-6"><rect class="n wh" x="1879" y="1155" width="112" height="113"/><text class="wt" font-size="17"><tspan x="1935" y="1178.7">Più</tspan><tspan x="1935" dy="23.9">vicinanza</tspan><tspan x="1935" dy="23.9">alla politica</tspan><tspan x="1935" dy="23.9">locale</tspan></text></g>
<g id="gain-7"><rect class="n wh" x="2001" y="1155" width="113" height="113"/><text class="wt" font-size="25"><tspan x="2057.5" y="1217">Silenzio</tspan></text></g>
<g id="gain-8"><rect class="n wh" x="2124" y="1155" width="115" height="113"/><text class="wt" font-size="15.5"><tspan x="2181.5" y="1182">Un morale</tspan><tspan x="2181.5" dy="21.7">più alto, e la</tspan><tspan x="2181.5" dy="21.7">possibilità di</tspan><tspan x="2181.5" dy="21.7">reinventarsi</tspan></text></g>
<g id="gain-9"><rect class="n wh" x="2249" y="1155" width="114" height="113"/><text class="wt" font-size="17"><tspan x="2306" y="1178.7">Niente</tspan><tspan x="2306" dy="23.9">smog o</tspan><tspan x="2306" dy="23.9">caos</tspan><tspan x="2306" dy="23.9">cittadino</tspan></text></g>
<g id="gain-10"><rect class="n wh" x="2373" y="1155" width="113" height="113"/><text class="wt" font-size="20"><tspan x="2429.5" y="1188">qualità</tspan><tspan x="2429.5" dy="27.8">della vita</tspan><tspan x="2429.5" dy="27.8">e del cibo</tspan></text></g>
<g id="gain-11"><rect class="n wh" x="1256" y="1277" width="113" height="115"/><text class="wt" font-size="29"><tspan x="1312.5" y="1321.7">la</tspan><tspan x="1312.5" dy="40">natura</tspan></text></g>
<g id="gain-12"><rect class="n wh" x="1379" y="1277" width="110" height="115"/><text class="wt" font-size="18"><tspan x="1434" y="1313">il</tspan><tspan x="1434" dy="25">risparmio</tspan><tspan x="1434" dy="25">economico</tspan></text></g>
<g id="gain-13"><rect class="n wh" x="1501" y="1277" width="113" height="115"/><text class="wt" font-size="13"><tspan x="1557.5" y="1309.5">possibilità di</tspan><tspan x="1557.5" dy="18.1">vivere uno stile</tspan><tspan x="1557.5" dy="18.1">di vita più</tspan><tspan x="1557.5" dy="18.1">sostenibile</tspan></text></g>
<g id="gain-14"><rect class="n wh" x="1624" y="1277" width="114" height="115"/><text class="wt" font-size="27"><tspan x="1681" y="1322.5">Morale</tspan><tspan x="1681" dy="36.7">più alto</tspan></text></g>
<g id="gain-15"><rect class="n wh" x="1752" y="1277" width="115" height="115"/><text class="wt" font-size="18"><tspan x="1809.5" y="1313">Rete</tspan><tspan x="1809.5" dy="25">sociale più</tspan><tspan x="1809.5" dy="25">familiare</tspan></text></g>
</g>
</svg>
